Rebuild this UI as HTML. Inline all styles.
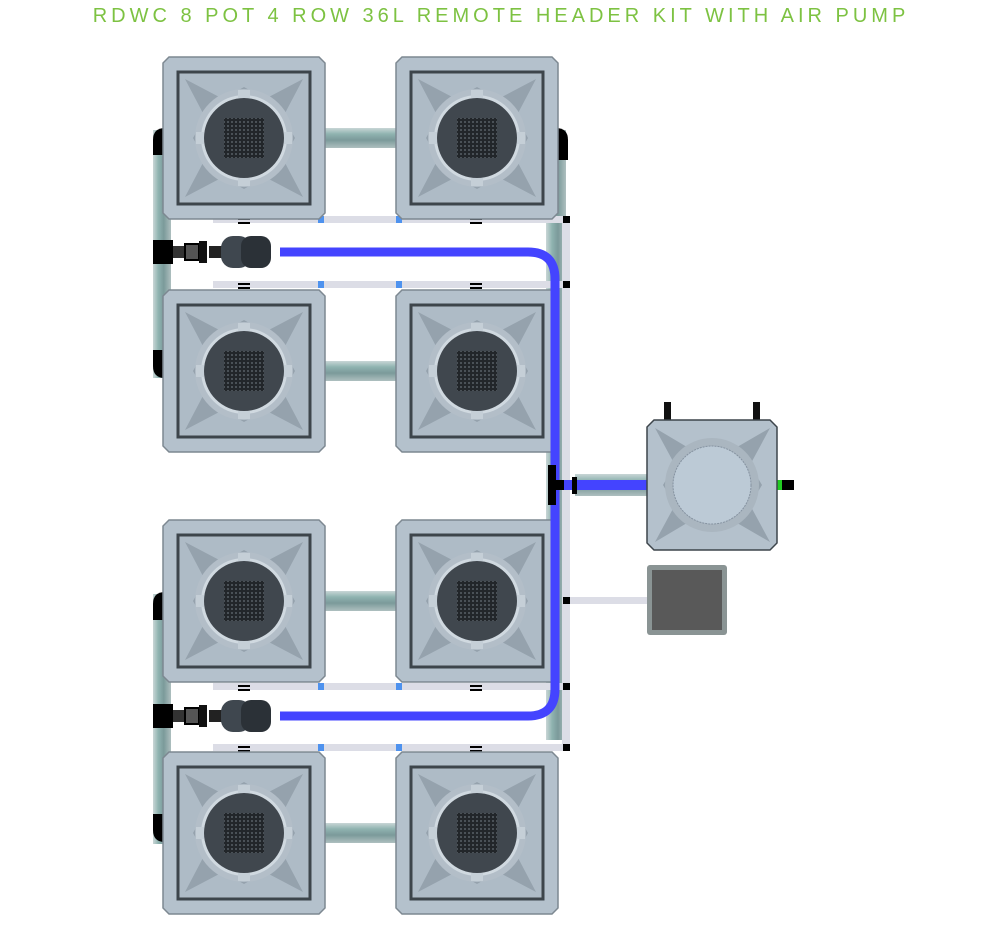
<!DOCTYPE html>
<html><head><meta charset="utf-8"><style>
html,body{margin:0;padding:0;background:#fff;width:1003px;height:948px;overflow:hidden}
svg{display:block}
</style></head><body>
<svg width="1003" height="948" viewBox="0 0 1003 948" xmlns="http://www.w3.org/2000/svg">
<defs>
<linearGradient id="hp" x1="0" y1="0" x2="0" y2="1"><stop offset="0" stop-color="#c9d6d6"/><stop offset=".3" stop-color="#8fb3b0"/><stop offset=".6" stop-color="#7b9a9a"/><stop offset="1" stop-color="#aebfbf"/></linearGradient>
<linearGradient id="vp" x1="0" y1="0" x2="1" y2="0"><stop offset="0" stop-color="#c9d6d6"/><stop offset=".3" stop-color="#8fb3b0"/><stop offset=".6" stop-color="#7b9a9a"/><stop offset="1" stop-color="#aebfbf"/></linearGradient>
<pattern id="grid" width="4" height="4" patternUnits="userSpaceOnUse"><rect width="4" height="4" fill="#22262a"/><rect width="2" height="2" fill="#4a5157"/></pattern>
<g id="pot">
<path d="M6,0H156L162,6V156L156,162H6L0,156V6Z" fill="#b4c1cc" stroke="#7d8891" stroke-width="1.5"/>
<rect x="15" y="15" width="132" height="132" fill="#aebbc6" stroke="#3d454b" stroke-width="3"/>
<polygon points="22,22 60,42 81,30 102,42 140,22 120,60 132,81 120,102 140,140 102,120 81,132 60,120 22,140 42,102 30,81 42,60" fill="#95a2ad"/>
<circle cx="81" cy="81" r="49" fill="#b3bec8"/>
<circle cx="81" cy="81" r="43" fill="#d0d9e0"/>
<circle cx="81" cy="81" r="40" fill="#40474e"/>
<rect x="61" y="61" width="40" height="40" fill="url(#grid)"/>
<rect x="75" y="33" width="12" height="8" fill="#c5cfd7"/>
<rect x="75" y="121" width="12" height="8" fill="#c5cfd7"/>
<rect x="33" y="75" width="8" height="12" fill="#c5cfd7"/>
<rect x="121" y="75" width="8" height="12" fill="#c5cfd7"/>
</g>
<g id="valve">
<rect x="0" y="-12" width="20" height="24" fill="#000"/>
<rect x="20" y="-6" width="12" height="12" fill="#333"/>
<rect x="32" y="-8" width="14" height="16" fill="#555" stroke="#000" stroke-width="2"/>
<rect x="46" y="-11" width="8" height="22" fill="#111"/>
<rect x="56" y="-6" width="14" height="12" fill="#222"/>
<rect x="68" y="-16" width="30" height="32" rx="12" fill="#3f474f"/>
<rect x="88" y="-16" width="30" height="32" rx="10" fill="#2b3137"/>
</g>
</defs>
<text x="501" y="22" text-anchor="middle" font-family="Liberation Sans, sans-serif" font-size="20" letter-spacing="4" fill="#7dc242">RDWC 8 POT 4 ROW 36L REMOTE HEADER KIT WITH AIR PUMP</text>

<!-- pipes -->
<rect x="320" y="128" width="82" height="20" fill="url(#hp)"/>
<rect x="320" y="361" width="82" height="20" fill="url(#hp)"/>
<rect x="320" y="591" width="82" height="20" fill="url(#hp)"/>
<rect x="320" y="823" width="82" height="20" fill="url(#hp)"/>
<rect x="153" y="130" width="18" height="248" fill="url(#vp)"/>
<rect x="153" y="594" width="18" height="250" fill="url(#vp)"/>
<path d="M153,155V140Q153,128 165,128V155Z" fill="#000"/>
<path d="M153,350V366Q153,378 165,378V350Z" fill="#000"/>
<path d="M153,620V604Q153,592 165,592V620Z" fill="#000"/>
<path d="M153,814V830Q153,842 165,842V814Z" fill="#000"/>
<rect x="546" y="130" width="20" height="610" fill="url(#vp)"/>
<path d="M556,128Q568,128 568,140V160H556Z" fill="#000"/>
<rect x="562" y="220" width="8" height="530" fill="#dcdde6"/>

<!-- light lines -->
<g fill="#dcdde6">
<rect x="213" y="216" width="357" height="7"/><rect x="213" y="281" width="357" height="7"/>
<rect x="213" y="683" width="357" height="7"/><rect x="213" y="744" width="357" height="7"/>
<rect x="565" y="597" width="82" height="7"/>
</g>
<g fill="#4e92ee">
<rect x="318" y="216" width="6" height="7"/><rect x="396" y="216" width="6" height="7"/>
<rect x="318" y="281" width="6" height="7"/><rect x="396" y="281" width="6" height="7"/>
<rect x="318" y="683" width="6" height="7"/><rect x="396" y="683" width="6" height="7"/>
<rect x="318" y="744" width="6" height="7"/><rect x="396" y="744" width="6" height="7"/>
</g>
<g fill="#000">
<rect x="563" y="216" width="7" height="7"/><rect x="563" y="281" width="7" height="7"/>
<rect x="563" y="683" width="7" height="7"/><rect x="563" y="744" width="7" height="7"/>
<rect x="563" y="597" width="7" height="7"/>
<rect x="238" y="218" width="12" height="2"/><rect x="238" y="222" width="12" height="2"/>
<rect x="470" y="218" width="12" height="2"/><rect x="470" y="222" width="12" height="2"/>
<rect x="238" y="283" width="12" height="2"/><rect x="238" y="287" width="12" height="2"/>
<rect x="470" y="283" width="12" height="2"/><rect x="470" y="287" width="12" height="2"/>
<rect x="238" y="685" width="12" height="2"/><rect x="238" y="689" width="12" height="2"/>
<rect x="470" y="685" width="12" height="2"/><rect x="470" y="689" width="12" height="2"/>
<rect x="238" y="746" width="12" height="2"/><rect x="238" y="750" width="12" height="2"/>
<rect x="470" y="746" width="12" height="2"/><rect x="470" y="750" width="12" height="2"/>
</g>

<!-- pots -->
<use href="#pot" x="163" y="57"/><use href="#pot" x="396" y="57"/>
<use href="#pot" x="163" y="290"/><use href="#pot" x="396" y="290"/>
<use href="#pot" x="163" y="520"/><use href="#pot" x="396" y="520"/>
<use href="#pot" x="163" y="752"/><use href="#pot" x="396" y="752"/>

<!-- pump side pipe -->
<rect x="575" y="474" width="75" height="22" fill="url(#hp)"/>
<!-- blue tubes -->
<path d="M280,252H528Q555,252 555,279V689Q555,716 528,716H280" fill="none" stroke="#4444ff" stroke-width="9"/>
<rect x="555" y="480" width="93" height="10" fill="#4444ff"/>
<rect x="548" y="465" width="8" height="40" fill="#000"/><rect x="548" y="480" width="16" height="10" fill="#000"/>
<rect x="572" y="477" width="5" height="17" fill="#000"/>

<use href="#valve" x="153" y="252"/>
<use href="#valve" x="153" y="716"/>

<!-- pump reservoir -->
<rect x="664" y="402" width="7" height="20" fill="#111"/><rect x="753" y="402" width="7" height="20" fill="#111"/>
<rect x="777" y="480" width="6" height="10" fill="#2c2"/><rect x="782" y="480" width="12" height="10" fill="#000"/>
<path d="M654,420H770L777,427V543L770,550H654L647,543V427Z" fill="#b4c1cc" stroke="#3d454b" stroke-width="1.5"/>
<polygon points="655,428 692,450 712,440 732,450 770,428 750,465 762,485 750,505 770,542 732,520 712,530 692,520 655,542 675,505 663,485 675,465" fill="#95a2ad"/>
<circle cx="712" cy="485" r="47" fill="#aab6c0"/>
<circle cx="712" cy="485" r="39" fill="#bccad6" stroke="#8592a0" stroke-width="1" stroke-dasharray="2 1"/>
<!-- grey box -->
<rect x="647" y="565" width="80" height="70" rx="3" fill="#8a9494"/>
<rect x="652" y="570" width="70" height="60" fill="#595959"/>
</svg>
</body></html>
